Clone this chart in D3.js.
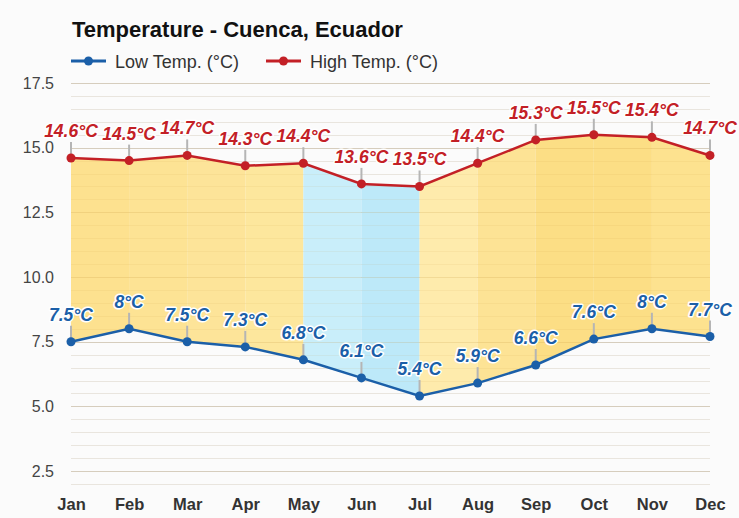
<!DOCTYPE html>
<html><head><meta charset="utf-8">
<script src="https://cdn.jsdelivr.net/npm/d3@7"></script>
<style>
html,body{margin:0;padding:0;background:#fbfbfb;}
svg{display:block;font-family:Arial,"Liberation Sans",Helvetica,sans-serif;}
</style></head>
<body>
<svg id="chart" width="739" height="518"></svg>
<script>
const months = ["Jan","Feb","Mar","Apr","May","Jun","Jul","Aug","Sep","Oct","Nov","Dec"];
const lowTemps = [7.5, 8, 7.5, 7.3, 6.8, 6.1, 5.4, 5.9, 6.6, 7.6, 8, 7.7];
const highTemps = [14.6, 14.5, 14.7, 14.3, 14.4, 13.6, 13.5, 14.4, 15.3, 15.5, 15.4, 14.7];
const yTickValues = [2.5, 5.0, 7.5, 10.0, 12.5, 15.0, 17.5];
const yDomain = [2, 17.5];
const seriesNames = ["Low Temp. (°C)", "High Temp. (°C)"];
const title = "Temperature - Cuenca, Ecuador";

// styles
const segColors = ["#fddf89","#fde18e","#fde393","#fde698","#c6edfa","#b9e8f9","#feeaa8","#fde28f","#fcdc7e","#fcdc7e","#fde089"];
const lowColor = "#1b5fa8", highColor = "#c32026";

const svg = d3.select("#chart");
const x = d3.scalePoint().domain(months).range([71, 710]);
const y = d3.scaleLinear().domain(yDomain).range([484, 83]);

// gridlines
const minor = d3.range(yDomain[0], yDomain[1] + 0.001, 0.5);
svg.append("g").selectAll("line").data(minor).join("line")
  .attr("x1", x("Jan")).attr("x2", x("Dec"))
  .attr("y1", d => Math.round(y(d)) + 0.5).attr("y2", d => Math.round(y(d)) + 0.5)
  .attr("stroke", d => yTickValues.includes(d) ? "#d9d9d9" : "#ececec")
  .attr("stroke-width", 1);

// segment fills
const area = d3.area().x(d => x(d.m)).y0(d => y(d.lo)).y1(d => y(d.hi));
const segs = d3.range(months.length - 1).map(i => [
  {m: months[i], lo: lowTemps[i], hi: highTemps[i]},
  {m: months[i+1], lo: lowTemps[i+1], hi: highTemps[i+1]}
]);
svg.append("g").selectAll("path").data(segs).join("path")
  .attr("d", area).attr("fill", (d, i) => segColors[i]).attr("fill-opacity", 0.95);

// faint gridlines over fills
svg.append("g").selectAll("line").data(minor).join("line")
  .attr("x1", x("Jan")).attr("x2", x("Dec"))
  .attr("y1", d => Math.round(y(d)) + 0.5).attr("y2", d => Math.round(y(d)) + 0.5)
  .attr("stroke", d => yTickValues.includes(d) ? "rgba(200,150,60,0.18)" : "rgba(200,150,60,0.08)");

// y axis
const yAxis = d3.axisLeft(y).tickValues(yTickValues).tickSize(0).tickPadding(0)
  .tickFormat(d3.format(".1f"));
const gy = svg.append("g").attr("transform", "translate(54,0)").call(yAxis);
gy.select(".domain").remove();
gy.selectAll("text").attr("font-size", 16).attr("fill", "#444").attr("font-family", "Arial, 'Liberation Sans', sans-serif");

// x axis
const xAxis = d3.axisBottom(x).tickSize(0).tickPadding(0);
const gx = svg.append("g").attr("transform", "translate(0,498)").call(xAxis);
gx.select(".domain").remove();
gx.selectAll("text").attr("font-size", 16.5).attr("font-weight", "bold").attr("fill", "#333")
  .attr("font-family", "Arial, 'Liberation Sans', sans-serif");

function drawSeries(vals, color) {
  const g = svg.append("g");
  g.selectAll("line.tk").data(vals).join("line")
    .attr("x1", (d, i) => x(months[i])).attr("x2", (d, i) => x(months[i]))
    .attr("y1", d => y(d)).attr("y2", d => y(d) - 16)
    .attr("stroke", "#b5b5b5").attr("stroke-width", 2);
  g.append("path").datum(vals)
    .attr("d", d3.line().x((d, i) => x(months[i])).y(d => y(d)))
    .attr("fill", "none").attr("stroke", color).attr("stroke-width", 2.5);
  g.selectAll("circle").data(vals).join("circle")
    .attr("cx", (d, i) => x(months[i])).attr("cy", d => y(d)).attr("r", 4.5)
    .attr("fill", color);
  g.selectAll("text").data(vals).join("text")
    .attr("x", (d, i) => x(months[i])).attr("y", d => y(d) - 21)
    .attr("text-anchor", "middle")
    .attr("font-size", 17.5).attr("font-weight", "bold").attr("font-style", "italic")
    .attr("fill", color).attr("stroke", "#fff").attr("stroke-width", 3)
    .attr("stroke-linejoin", "round").attr("paint-order", "stroke")
    .text(d => d + "°C");
}
drawSeries(highTemps, highColor);
drawSeries(lowTemps, lowColor);

// title
svg.append("text").attr("x", 72).attr("y", 37).text(title)
  .attr("font-size", 22).attr("font-weight", "bold").attr("fill", "#111");

// legend
const legendItems = [
  {name: seriesNames[0], color: lowColor, x: 71},
  {name: seriesNames[1], color: highColor, x: 266}
];
const lg = svg.append("g").selectAll("g").data(legendItems).join("g")
  .attr("transform", d => `translate(${d.x},61)`);
lg.append("line").attr("x1", 0).attr("x2", 35).attr("y1", 0).attr("y2", 0)
  .attr("stroke", d => d.color).attr("stroke-width", 3);
lg.append("circle").attr("cx", 17.5).attr("cy", 0).attr("r", 4.5).attr("fill", d => d.color);
lg.append("text").attr("x", 44).attr("y", 6.5).text(d => d.name)
  .attr("font-size", 18).attr("fill", "#333");
</script>
</body></html>
